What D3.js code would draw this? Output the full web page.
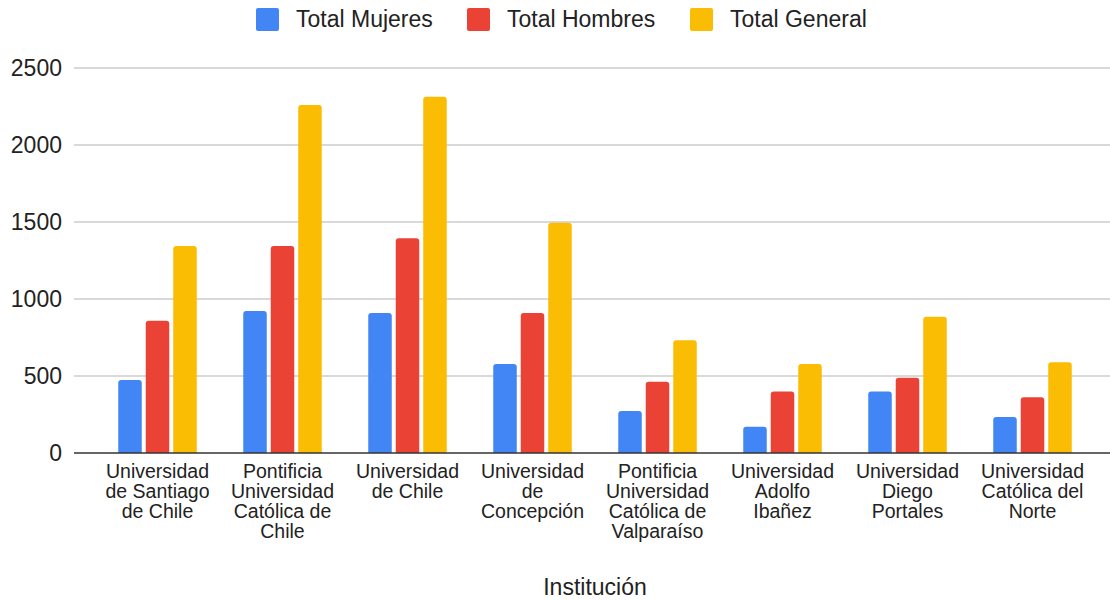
<!DOCTYPE html>
<html>
<head>
<meta charset="utf-8">
<script src="https://cdn.jsdelivr.net/npm/d3@7"></script>
<style>
  html, body { margin: 0; padding: 0; background: #fff; }
  text { font-family: "Liberation Sans", Arial, sans-serif; }
</style>
</head>
<body>
<svg id="chart" width="1110" height="601"></svg>
<script>
const categories = [
  "Universidad de Santiago de Chile",
  "Pontificia Universidad Católica de Chile",
  "Universidad de Chile",
  "Universidad de Concepción",
  "Pontificia Universidad Católica de Valparaíso",
  "Universidad Adolfo Ibañez",
  "Universidad Diego Portales",
  "Universidad Católica del Norte"
];
const seriesNames = ["Total Mujeres", "Total Hombres", "Total General"];
const totalMujeres = [474, 922, 909, 578, 273, 171, 400, 234];
const totalHombres = [859, 1344, 1394, 909, 463, 400, 489, 362];
const totalGeneral = [1344, 2260, 2314, 1495, 732, 578, 885, 589];
const yTicks = [0, 500, 1000, 1500, 2000, 2500];
const colors = ["#4285F4", "#EA4335", "#FBBC04"];
const xTitle = "Institución";

const seriesValues = [totalMujeres, totalHombres, totalGeneral];

const svg = d3.select("#chart");
const plotLeft = 74, plotRight = 1110, y0 = 453, yTop = 68;

const y = d3.scaleLinear().domain([0, 2500]).range([y0, yTop]);
const x0 = d3.scaleBand().domain(categories).range([95, 1095]).paddingInner(0.372).paddingOuter(0.186);
const x1 = d3.scaleBand().domain(seriesNames).range([0, x0.bandwidth()]).paddingInner(0.145).paddingOuter(0);

// gridlines
svg.append("g").selectAll("line").data(yTicks.filter(d => d !== 0)).join("line")
  .attr("x1", plotLeft).attr("x2", plotRight)
  .attr("y1", d => y(d)).attr("y2", d => y(d))
  .attr("stroke", "#cccccc").attr("stroke-width", 1.5);

// y tick labels
svg.append("g").selectAll("text").data(yTicks).join("text")
  .attr("x", 62).attr("y", d => y(d) + 8)
  .attr("text-anchor", "end")
  .attr("font-size", 23).attr("fill", "#222")
  .text(d => d);

// bars with rounded top corners
function barPath(x, yT, w, h, r) {
  r = Math.min(r, h, w / 2);
  return `M${x},${yT + h}V${yT + r}Q${x},${yT} ${x + r},${yT}H${x + w - r}Q${x + w},${yT} ${x + w},${yT + r}V${yT + h}Z`;
}
const barData = [];
categories.forEach((c, i) => {
  seriesNames.forEach((s, j) => {
    barData.push({ c, s, v: seriesValues[j][i], color: colors[j] });
  });
});
svg.append("g").selectAll("path").data(barData).join("path")
  .attr("d", d => barPath(x0(d.c) + x1(d.s), y(d.v), x1.bandwidth(), y0 - y(d.v), 3))
  .attr("fill", d => d.color);

// baseline
svg.append("line")
  .attr("x1", plotLeft).attr("x2", plotRight)
  .attr("y1", y(0)).attr("y2", y(0))
  .attr("stroke", "#333").attr("stroke-width", 1.5);

// category labels with wrapping
const maxW = 112;
const labelG = svg.append("g");
categories.forEach(c => {
  const cx = x0(c) + x0.bandwidth() / 2;
  const t = labelG.append("text")
    .attr("x", cx).attr("y", 478)
    .attr("text-anchor", "middle")
    .attr("font-size", 19.5).attr("fill", "#222");
  const words = c.split(" ");
  let lines = [];
  let cur = [];
  const probe = t.append("tspan");
  words.forEach(w => {
    const test = cur.concat([w]).join(" ");
    probe.text(test);
    if (cur.length && probe.node().getComputedTextLength() > maxW) {
      lines.push(cur.join(" "));
      cur = [w];
    } else {
      cur.push(w);
    }
  });
  if (cur.length) lines.push(cur.join(" "));
  probe.remove();
  lines.forEach((ln, k) => {
    t.append("tspan").attr("x", cx).attr("y", 478 + k * 20).text(ln);
  });
});

// x axis title
svg.append("text")
  .attr("x", 595).attr("y", 595)
  .attr("text-anchor", "middle")
  .attr("font-size", 23).attr("fill", "#222")
  .text(xTitle);

// legend
const legendX = [256, 467, 690];
const lg = svg.append("g");
seriesNames.forEach((s, j) => {
  lg.append("rect")
    .attr("x", legendX[j]).attr("y", 8)
    .attr("width", 23).attr("height", 23)
    .attr("rx", 2).attr("fill", colors[j]);
  lg.append("text")
    .attr("x", legendX[j] + 40).attr("y", 27)
    .attr("font-size", 23).attr("fill", "#222")
    .text(s);
});
</script>
</body>
</html>
